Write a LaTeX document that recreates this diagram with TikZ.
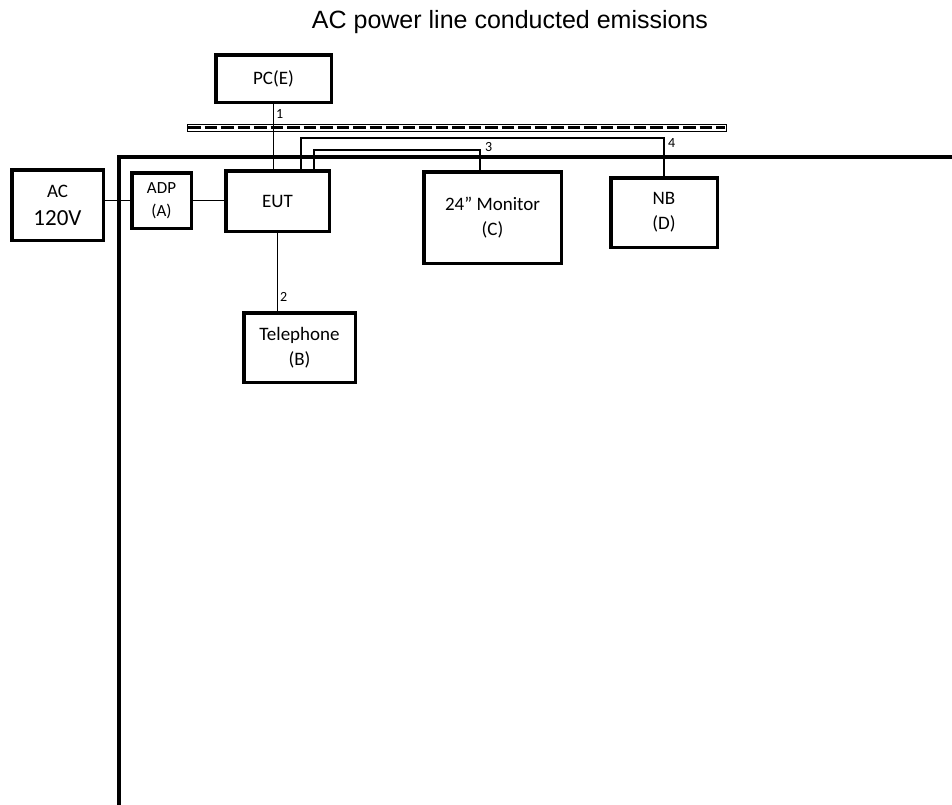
\documentclass[tikz,border=0pt]{standalone}
\usepackage{fontspec}
\setmainfont{Carlito}
\newfontfamily\titlefont{Liberation Sans}
\begin{document}
\begin{tikzpicture}[x=1pt, y=-1pt,
    box/.style={draw, line width=3.5pt, inner sep=0pt, align=center,
      font=\fontsize{19}{25}\selectfont},
    wire/.style={line width=1.2pt},
    num/.style={anchor=west, inner sep=0pt, font=\fontsize{14}{14}\selectfont}]
  \useasboundingbox (0, 0) rectangle (952, 804);
  \node [font=\titlefont\fontsize{25}{25}\selectfont] (title) at (510, 22) {AC power line conducted emissions};
  % table edge
  \draw [line width=4pt] (960, 157) -- (119, 157) -- (119, 810);
  \draw [line width=0.8pt] (187, 124) rectangle (726, 131);
  \draw [line width=3.5pt, dash pattern=on 12.5pt off 4pt] (188, 127.5) -- (725, 127.5);
  \node [box, minimum width=115.5pt, minimum height=47.5pt] (pc) at (273.5, 78.5) {PC(E)};
  \node [box, minimum width=91.5pt, minimum height=70.5pt] (ac) at (57.5, 205) {AC\\[3pt]{\fontsize{23}{23}\selectfont 120V}};
  \node [box, minimum width=59.5pt, minimum height=55.5pt, font=\fontsize{17}{23}\selectfont] (adp) at (161.5, 200.5) {ADP\\(A)};
  \node [box, minimum width=103.5pt, minimum height=60.5pt] (eut) at (277.5, 201) {EUT};
  \node [box, minimum width=137.5pt, minimum height=91.5pt] (mon) at (492.5, 217.5) {24” Monitor\\(C)};
  \node [box, minimum width=106.5pt, minimum height=69.5pt] (nb) at (664, 212.5) {NB\\(D)};
  \node [box, minimum width=111.5pt, minimum height=69.5pt] (tel) at (299.5, 347.5) {Telephone\\(B)};
  \coordinate (w3) at (314, 150);
  \coordinate (w4) at (301, 138);
  \draw [wire] (ac.east |- adp) -- (adp.west);
  \draw [wire] (adp.east) -- (adp.east -| eut.west);
  \draw [wire] (pc.south) -- (pc.south |- eut.north);
  \draw [wire] (eut.south) -- (eut.south |- tel.north);
  \draw [wire] (eut.north -| w3) -- (w3) -| ([xshift=-12.5pt]mon.north);
  \draw [wire] (eut.north -| w4) -- (w4) -| (nb.north);
  \node [num] (n1) at (276, 114) {1};
  \node [num] (n2) at (280, 297) {2};
  \node [num] (n3) at (485, 147) {3};
  \node [num] (n4) at (668, 143) {4};
\end{tikzpicture}
\end{document}
